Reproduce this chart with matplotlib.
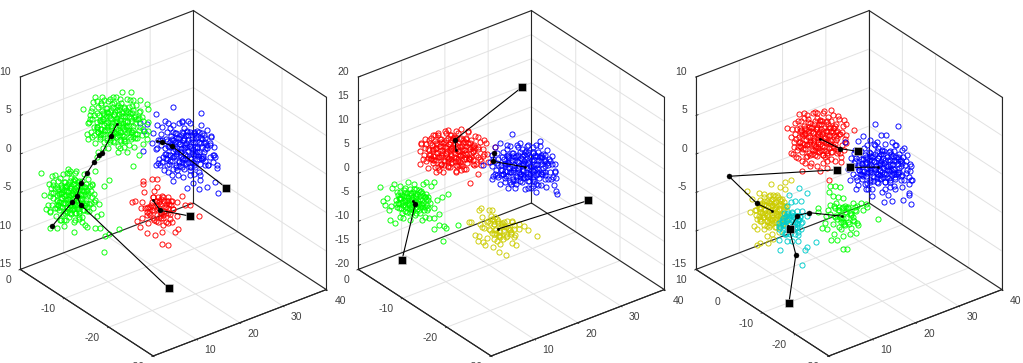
import numpy as np
import matplotlib
matplotlib.use('Agg')
import matplotlib.pyplot as plt
from matplotlib.ticker import NullFormatter
from mpl_toolkits.mplot3d import proj3d

plt.rcParams.update({'font.family': ['Liberation Sans', 'DejaVu Sans'], 'font.size': 7.5,
                     'axes.unicode_minus': False, 'grid.color': '#e2e2e2', 'grid.linewidth': 0.7,
                     'axes3d.automargin': False})

RED, GREEN, BLUE, YELLOW, CYAN = '#ff0000', '#00ff00', '#0000ff', '#cccc00', '#00cccc'
FRAME, LABEL = '#262626', '#404040'

core = [(-1.9,0.2),(-1.7,0.8),(-1.6,-0.4),(-1.4,1.2),(-1.4,0.3),(-1.3,-0.9),(-1.2,-0.1),(-1.0,0.7),(-1.0,1.5),
        (-0.9,-0.5),(-0.9,-1.3),(-0.8,0.2),(-0.6,1.1),(-0.6,-0.9),(-0.5,0.5),(-0.5,-0.2),(-0.3,1.6),(-0.3,-1.5),
        (-0.2,0.9),(-0.2,-0.7),(-0.1,0.2),(0.0,-0.3),(0.1,1.3),(0.1,0.6),(0.1,-1.1),(0.3,-0.1),(0.4,1.6),(0.4,0.4),
        (0.4,-0.7),(0.5,-1.5),(0.6,1.0),(0.7,0.1),(0.8,-0.4),(0.8,-1.1),(0.9,0.7),(1.0,1.3),(1.1,0.2),(1.1,-0.8),
        (1.3,0.7),(1.3,-0.2),(1.4,-1.2),(1.6,0.3),(1.6,1.0),(1.7,-0.5),(1.9,0.1),(1.9,-0.9),(-1.8,-0.7),(-1.6,0.4),
        (-1.2,0.9),(-1.1,-0.5),(-0.8,-0.1),(-0.7,0.7),(-0.4,0.1),(-0.3,-1.0),(-0.1,1.1),(0.0,0.3),(0.2,-0.5),(0.3,0.9),
        (0.6,-0.2),(0.6,-1.0),(0.9,0.3),(1.0,-0.3),(1.2,1.1),(1.5,-0.7),(1.5,0.6),(-1.5,-0.9),(-0.6,-1.4),(0.2,1.7),
        (0.9,-1.5),(1.8,0.6),(-1.9,-0.3),(-0.9,1.1),(0.0,-0.8),(0.5,0.7),(1.2,-0.5),(-0.4,-0.5),(-1.3,0.5),(0.8,1.5)]

p1_green_top = [(-3.3,1.5),(-2.1,2.7),(-1.4,2.7),(0.6,3.2),(1.5,3.2),(2.4,2.4),(3.1,2.0),(3.2,1.5),(2.3,1.2),(1.7,2.4),
    (-2.6,0.5),(-2.7,0.2),(-2.3,2.2),(-1.9,2.3),(-0.8,2.3),(0,2.7),(1.1,2.5),(-1.9,-0.5),(-2.9,-1),(-2.4,-1.3),(-1.6,-1.5),
    (-0.6,-1.8),(0.2,-2.8),(0.2,-2.2),(1.1,-2.8),(1.8,-2.3),(2.3,-3.1),(3.2,0.2),(3.2,-0.7),(3,-1),(2.7,-2),(3.1,-1.5),
    (2.2,0.5),(2.1,-1),(1.7,-4.2),(-1.8,-2.8),(-1.9,-3.3),(1.7,-1.3),(-2.5,1.3),(-2.2,-0.3),(2.4,-0.3),(2.6,0.7),(1.6,1.8),
    (-1.5,1.9),(0.5,2.1),(-0.4,2.0),(-1.6,-1.1),(0.8,-1.7),(1.5,-1.5)]
p1_green_low = [(-3.1,2.4),(-2,2.1),(-1.7,2.2),(-0.4,2.8),(0.4,2.6),(-0.3,2.4),(-2.3,1.3),(-1.9,1.2),(-2.8,0.2),(-2.1,0.4),
    (-1.9,-0.1),(-2.4,-0.8),(-2.6,-1.2),(-2.2,-1.5),(-1.5,-1.1),(-0.8,-2.3),(-1.5,-3.1),(-2.2,-3.1),(0.2,-3.5),(-0.8,-2.9),
    (1.3,-2.8),(1.5,-3),(2.3,-3.1),(2.8,-3.1),(2.9,-1.7),(2.5,-1.9),(2.7,-0.7),(2.3,-0.3),(1.8,1.1),(2,1.3),(3.2,1.1),(3.7,1.7),
    (2.3,2.6),(3.3,-3.9),(3.7,-3.7),(4.7,-3.2),(3.2,-5.5),(0.7,-2),(1.2,-1.3),(1.7,-0.7),(2,0),(-1.2,-2.3),(-0.3,-2),(0.2,-2.5),(1,-2.5)]
p1_blue = [(-1.2,4.3),(1.6,3.7),(-2.9,3.6),(-2,2.9),(-0.3,2.9),(0.3,2.9),(1.2,1.9),(1.7,1.7),(2.6,1.4),(-4.1,1.9),(-4.5,2.7),
    (-3.8,2.6),(-3.2,1.7),(-2.8,2.5),(-2.3,2.3),(-1.7,2.7),(-4.2,-0.1),(-3.3,0.7),(-2.8,0.2),(-2.7,-1.3),(-2.5,-1.5),(-1.8,-1.5),
    (-1.7,-2.2),(-1.2,-3.1),(-0.2,-2.7),(0.2,-3.8),(0.8,-3.3),(1.4,-3.9),(2.2,-3.7),(3.3,-4.3),(3,-3.2),(3.2,-1.8),(3,-0.7),(2.5,0.5),
    (2,1.2),(2.8,-0.5),(2.3,-1.5),(1.5,-3),(3.2,-1.5),(-2.2,-0.7),(-1.2,1.8),(-0.2,1.7),(-2.5,1),(-1.5,0.8),(1.5,-2.5),(-0.8,-2),
    (0.5,-2),(2.2,0.2),(1.8,-0.8),(0.7,1.5)]
p1_red = [(-0.8,3),(-1.7,2.8),(-0.3,3),(-1.7,2.5),(-1.6,1.7),(-0.6,1.8),(-0.3,2.2),(-2.8,0.8),(-2.5,0.9),(-1.8,0.8),(-1.9,0.2),
    (-1.5,0.2),(-1.2,0.3),(-0.7,1.2),(0.2,1.3),(0.8,1.2),(1.2,0.8),(2.2,1.3),(1.7,0.7),(3,0.4),(2.5,0.4),(3.9,-0.7),(-1.8,-0.8),
    (-2.3,-1.1),(-2,-1.7),(-1.2,-1.3),(-1.3,-2.3),(-0.5,-2.5),(0.2,-3.4),(0.8,-3.5),(0.2,-2.2),(1.8,-2),(1.5,-2.2),(-0.3,-0.5),
    (-0.2,-1.2),(0.3,-0.8),(0.8,-1.3),(1,-0.5),(1.3,0),(0.5,0.2),(0,0.5),(-0.7,0.2),(-1,-0.5),(0.3,-1.5),(1.2,-1.3),(1.7,-0.7),
    (0.7,0.8),(-0.3,0.8),(-0.7,-0.8)]
p2_red = [(-3,0.9),(-1.8,1.7),(-2.2,1.2),(-2.3,0.3),(-2.7,-0.3),(-2.3,-0.6),(-1.6,-1.5),(-1.2,-1.8),(0.5,-1.9),(1.3,-1.7),(2.3,-1.3),
    (3,-1.3),(3.7,-1),(3.3,-0.2),(3.6,-0.2),(2.9,-0.7),(2.7,-2.2),(1.9,-3.1),(4.4,0.5),(2.7,1.5),(3.3,1.2),(3.5,0.9),(1.7,2.1),(1,2.3),
    (0.7,1.9),(-0.5,1.9),(0,1.7),(2.3,0.7),(2.2,0),(1.8,-0.7),(-1.3,1.7),(-1,-1.2),(-0.3,-1.5),(0.8,-1.3),(1.5,1.3),(2.5,-0.3),(-1.8,-0.8),(2.7,0.3)]
p2_blue = [(-1.1,3.3),(1.7,2.6),(-2.3,2.4),(-1.6,2.2),(-3.1,1.2),(-2.8,2),(1,2),(1.3,2.2),(0.4,2.1),(2.6,0.8),(2.9,0.3),(3.2,-0.5),
    (3.3,-1.1),(3.1,-1.8),(3.3,-2.4),(3.4,-2.7),(1.3,-2.5),(0.8,-2.1),(0.2,-2.2),(-1.2,-1.7),(-1.8,-1.5),(-3,-0.9),(-2.6,-0.8),(-4,0.2),
    (-3.3,0.5),(2.3,-2),(1.8,-1.8),(2.8,-1.2),(2.2,-0.5),(1.8,1.2),(-1.5,1.2),(-2.5,0.2),(-2.2,-0.8),(-0.5,2),(-0.7,-1.7),(1.3,-1.7),
    (2.5,0.2),(2.2,1.2),(-1.8,0.2),(-2.7,-0.3)]
p2_green = [(-3.2,1.4),(-1.8,1.7),(-2,1.3),(-1.2,1.5),(-0.4,1.9),(0.2,1.7),(1.1,1.7),(1.4,1.9),(2.2,1.9),(1.9,1.5),(-2.5,0.3),(-2.9,0),
    (-2.7,-0.4),(-2.3,-0.9),(-2.1,-0.5),(-1.4,-0.2),(-2.2,-1.9),(-1.7,-2.2),(-1.2,-1.6),(-0.9,-1.7),(-0.2,-1.9),(1,-1.9),(1.7,-1.7),
    (2.2,-1.7),(2.7,-1.3),(2.5,0.1),(3,0.4),(3.6,0.7),(2.7,-2.4),(2.2,-2.8),(3.2,-2.5),(3.4,-2.7),(4.6,-2.4),(3.1,-4),(-1.5,0.9),(-1,-1.2),
    (0.3,-1.4),(1.5,-0.9),(1.8,-0.2),(0.8,0.9),(-0.7,1.3),(-1.2,0.3),(-0.7,-0.6),(0,-1.1),(0.8,-0.6),(1.3,0.4),(-0.2,0.8),(0.3,0),(-0.5,0.1),
    (2.2,-0.7),(1.3,-1.6)]
p2_yellow = [(-1.8,2.1),(-2,1.9),(-1,1.9),(-0.7,1.9),(-1.7,1.2),(-0.8,1.3),(-0.4,1.2),(-3,0.7),(-2.8,0.7),(-1.9,0.5),(-1.7,0.2),(-2.4,-0.6),
    (-2,-0.7),(-2.1,-1.2),(-1.6,-1.3),(-1.4,-1.6),(-1.2,-0.9),(-0.6,-1.8),(0,-2.3),(0.7,-2.6),(-0.2,-1.2),(0.1,-1.5),(1.3,-1.4),(1.7,-1.6),
    (1.5,-0.8),(0.8,-0.7),(0.4,-1),(0,-0.7),(-0.5,-0.5),(-1,0),(-0.5,0.5),(0.2,0.5),(0.8,0.8),(1.3,0.8),(2,0.5),(2.5,0.3),(2.9,-0.1),(3.8,-0.7),
    (1.5,0),(1,0),(0.5,-0.2),(-0.3,0),(-0.7,1),(0.5,0.3),(1.2,-0.3),(0.1,-0.3),(0.7,-0.5),(2,0),(-1.2,0.7),(-0.2,1)]
p3_red = [(-3.1,1.1),(-1.9,2.5),(-1.4,2.6),(-2,1.8),(-0.1,2.6),(0.6,2.8),(1.3,2.9),(2,2.3),(2.6,1.9),(2.8,1.5),(3.6,0.9),(2.7,0),(2.7,-0.3),
    (-2.2,0),(-2.4,-0.3),(-2,-0.8),(-2.5,-1.5),(-2.2,-1.8),(-1.6,-2.2),(-0.8,-2.7),(-0.1,-2.7),(0.2,-3.2),(-1.6,-3.2),(0.9,-2.9),(2.3,-1.8),
    (2.3,-2.3),(1.1,-4.1),(1.7,-2.2),(1.3,-1.3),(2,-1.2),(2.2,0.5),(1.7,1.3),(-1,2),(1,2.2),(1.8,0.3),(-1.2,-1.8),(0.7,-1.8),(-1.8,0.8)]
p3_blue = [(-0.5,4.3),(1.8,4.1),(-1.7,3.1),(-2.2,2.6),(-1,2.7),(0.1,3.2),(0.6,3.2),(1.5,2.2),(2.4,1.9),(-3.5,2.5),(-2.5,1.7),(-2.5,0.6),(-2.2,0),
    (-2.3,-1.3),(-2.4,-2.2),(-1.5,-1.7),(-0.8,-2.9),(0.4,-3.5),(1.2,-3.4),(0.8,-2.8),(2.3,-3.3),(3.1,-3.7),(2.9,-2.6),(2.9,-2.8),(3.1,-1.3),
    (3.2,-1.3),(2.9,-1.7),(3.1,0.1),(2.7,-0.3),(2.2,-2),(1.5,-2.2),(2.3,1),(1.8,0.8),(2.2,-0.8),(-1.2,-2.2),(0.2,-2.5),(-1.7,0.8),(1.2,2.5),
    (-0.5,2.2),(2.5,0.2),(-1.8,-0.8),(1.5,-1),(-3.2,-0.2),(1.8,-0.5)]
p3_green = [(-1.3,2.9),(-0.8,2.9),(-0.3,2.8),(-1.4,2.3),(-1,1.9),(-0.5,1.8),(-0.7,1.2),(0,1.7),(0.2,0.9),(1,1.2),(1.4,0.9),(1.8,1.2),(2.3,1.1),
    (2,0.5),(2.4,0.8),(3.5,-0.4),(-2.5,0.8),(-2.5,0.4),(-1.5,0.5),(-1.7,0),(-1.8,-0.7),(-2.1,-1.2),(-1.6,-1.3),(-0.9,-1.8),(-1.2,-2.4),(-0.6,-2.4),
    (0,-2),(0,-3.3),(0.4,-3.3),(1.3,-1.8),(1.5,-1),(0.8,-1.3),(0.2,-1),(-0.2,-0.7),(0.3,-0.3),(0.8,0),(1.2,0.5),(-0.5,0.5),(-0.8,-0.2),(-0.2,-1.3),
    (0.5,-0.7),(1,-0.5),(-1,-0.8),(-0.3,0),(0.2,0.3),(0.5,0.7),(0.7,-1.8),(-1.3,1)]
p3_yellow = [(-0.1,2.8),(0.8,2.5),(1.3,3),(1.9,3.2),(1.3,2.3),(-1.3,1.9),(-0.8,1.8),(-2.5,2.1),(-2,1.3),(-1.7,0.2),(-2.2,0),(-1.2,0),(-1.8,-1.4),
    (-1.5,-1.7),(-1.2,-0.7),(-0.8,-1.7),(-0.5,-2.4),(0,-2.2),(-1.2,-3.1),(-1.5,-3.3),(-0.4,-3.1),(0.1,-2.7),(0.7,-2),(1,-1.2),(1.2,-0.3),(1.3,0.5),
    (1,1.3),(0.5,1.7),(-0.2,1.7),(0.3,1),(-0.3,1),(0.7,0.3),(-0.7,0.3),(0,-0.7),(-0.5,-0.8),(0.3,-1),(-0.2,-1.3),(0.8,-0.3),(-0.8,0.8),(-1,-0.3),
    (0.2,0.3),(0.5,-0.3),(0,0.7),(-0.5,-0.3),(0.8,0.8),(0.3,-1.5)]
p3_cyan = [(0.9,3.6),(1.7,3.1),(-0.1,2.9),(1.1,2.3),(0.5,2.3),(0.1,2.2),(1.2,1.3),(1.7,0.8),(0.7,1.3),(-0.3,1.8),(0.8,0.5),(1.2,0.2),(1.1,-0.5),
    (0.8,-1.1),(0.8,-1.7),(0.2,-1.7),(-0.3,-1.7),(-1.1,-1.6),(-1,-2.6),(1.7,-2.3),(1.5,-2.6),(2.6,-1.8),(1.2,-4.1),(-0.8,-0.8),(-0.5,-0.2),(-0.2,0.5),
    (0.3,0.8),(0.5,-0.5),(0,-1),(-0.5,-1),(0.7,0),(0,0),(0.2,1.2),(-0.3,1),(1,0.8),(0.5,0.2),(-0.7,0.3),(-0.2,-0.5)]

# points, colour, centre y, centre z, core spread h, core spread v, core step, outer ring
clusters1 = [(p1_red, RED, -13.9, -5.9, 0.7, 0.8, 2, False), (p1_blue, BLUE, -16.0, 1.8, 1.05, 1.15, 1, True),
             (p1_green_top, GREEN, -10.2, 5.2, 1.0, 1.1, 1, True), (p1_green_low, GREEN, -6.56, -4.3, 0.8, 1.05, 1, True)]
clusters2 = [(p2_red, RED, -10.0, 6.5, 1.15, 0.9, 1, True), (p2_blue, BLUE, -16.0, 3.4, 1.15, 0.95, 1, True),
             (p2_green, GREEN, -6.75, -3.7, 0.85, 0.75, 1, False), (p2_yellow, YELLOW, -14.0, -9.5, 0.8, 0.7, 3, False)]
clusters3 = [(p3_red, RED, -6.6, 3.3, 1.0, 1.1, 1, True), (p3_blue, BLUE, -13.44, -0.4, 1.1, 1.0, 1, True),
             (p3_green, GREEN, -9.38, -6.68, 0.7, 0.8, 3, False), (p3_yellow, YELLOW, -1.4, -6.25, 0.8, 1.0, 1, False),
             (p3_cyan, CYAN, -3.44, -7.77, 0.6, 0.7, 2, False)]

chains1 = [[(-4.9,-8.07),(-6.56,-4.95),(-6.97,-4.17),(-7.3,-2.47),(-7.8,-1.17),(-8.4,0.26),(-8.8,1.17),(-9.06,1.43),(-9.8,3.65),(-10.3,5.2)],
           [(-14.64,-16.15),(-7.3,-5.3),(-6.97,-4.17)],
           [(-19.4,-3.1),(-14.9,2.34),(-14.06,2.86),(-13.64,3.0)],
           [(-16.4,-6.77),(-13.9,-6.0),(-13.3,-4.7)]]
starts1 = [False, True, True, True]
chains2 = [[(-15.9,20.0),(-10.3,9.06),(-10.4,6.9)],
           [(-13.6,6.35),(-13.5,4.56),(-16.1,3.4)],
           [(-5.9,-15.9),(-7.0,-4.2),(-6.8,-3.7)],
           [(-21.4,-3.6),(-13.9,-9.5)]]
starts2 = [True, False, True, True]
chains3 = [[(-11.0,1.65),(-9.0,2.0),(-6.78,3.3)],
           [(-10.16,-0.43),(-13.27,-0.4)],
           [(-8.63,-0.74),(3.33,-1.56),(0.22,-5.1),(-1.4,-6.03)],
           [(-3.44,-8.46),(-4.27,-6.68),(-5.56,-6.3),(-9.19,-6.77)],
           [(-3.33,-18.0),(-4.1,-11.76),(-3.27,-7.98)]]
starts3 = [True, True, True, True, True]

panels = [dict(clusters=clusters1, chains=chains1, starts=starts1, ylim=(-30, 0), zlim=(-15, 10),
               yticks=[-30, -20, -10, 0], zticks=[-15, -10, -5, 0, 5, 10], left=20.3),
          dict(clusters=clusters2, chains=chains2, starts=starts2, ylim=(-30, 0), zlim=(-20, 20),
               yticks=[-30, -20, -10, 0], zticks=list(range(-20, 21, 5)), left=358.3),
          dict(clusters=clusters3, chains=chains3, starts=starts3, ylim=(-30, 10), zlim=(-15, 10),
               yticks=[-30, -20, -10, 0, 10], zticks=[-15, -10, -5, 0, 5, 10], left=696.0)]
XLIM = (0, 40)
XTICKS = [0, 10, 20, 30, 40]
XLABELS = [10, 20, 30, 40]
W, H = 1023, 363
BOX_W, BOTTOM = 306.0, 356.0

fig = plt.figure(figsize=(W/100, H/100), dpi=100)


def corners_px(ax, p):
    xs, ys, zs = [], [], []
    for x in XLIM:
        for y in p['ylim']:
            for z in p['zlim']:
                xs.append(x); ys.append(y); zs.append(z)
    a, b, _ = proj3d.proj_transform(np.array(xs, float), np.array(ys, float), np.array(zs, float), ax.get_proj())
    return ax.transData.transform(np.column_stack([a, b]))


def label3d(ax, x, y, z, s, ha):
    a, b, _ = proj3d.proj_transform(float(x), float(y), float(z), ax.get_proj())
    ax.text2D(a, b, str(s), transform=ax.transData, ha=ha, va='center', color=LABEL, fontsize=7.5)


for p in panels:
    S = 300.0
    ax = fig.add_axes([0.1, 0.1, S/W, S/H], projection='3d', computed_zorder=False)
    ax.set_proj_type('ortho')
    ax.view_init(elev=30, azim=-127.5)
    ax.set_box_aspect((1, 1, 1.018))
    x0, x1 = XLIM
    y0, y1 = p['ylim']
    z0, z1 = p['zlim']
    ax.set_xlim(x0, x1, view_margin=0)
    ax.set_ylim(y0, y1, view_margin=0)
    ax.set_zlim(z0, z1, view_margin=0)
    ax.patch.set_alpha(0)
    ax.set_xticks(XTICKS); ax.set_yticks(p['yticks']); ax.set_zticks(p['zticks'])
    ax.grid(True)
    ax.tick_params(axis='both', colors=FRAME)
    for a in (ax.xaxis, ax.yaxis, ax.zaxis):
        a.set_major_formatter(NullFormatter())
        for tick in a.get_major_ticks():
            tick.label1.set_visible(False)
            tick.label2.set_visible(False)
        a.set_pane_color((1, 1, 1, 1))
        a.pane.set_edgecolor('none')
        a.line.set_color(FRAME)
        a.line.set_linewidth(0.8)
        a._axinfo['tick']['inward_factor'] = 0.1
        a._axinfo['tick']['outward_factor'] = 0.0
        a._axinfo['tick']['linewidth'] = {True: 0.6, False: 0.5}
    ax.zaxis._axinfo['tick']['inward_factor'] = 0.0
    ax.zaxis.line.set_visible(False)

    xr, yr, zr = x1 - x0, y1 - y0, z1 - z0
    ymid = (y0 + y1)/2
    slope = 1.3134*40/yr
    yu = yr/36.0
    zu = zr*10/192.0

    # the box
    edges = [((x0, y1, z1), (x1, y1, z1)), ((x1, y1, z1), (x1, y0, z1)), ((x0, y1, z0), (x0, y1, z1)),
             ((x1, y1, z0), (x1, y1, z1)), ((x1, y0, z0), (x1, y0, z1)), ((x0, y1, z0), (x1, y1, z0)),
             ((x1, y1, z0), (x1, y0, z0)), ((x0, y1, z0), (x0, y0, z0)), ((x0, y0, z0), (x1, y0, z0))]
    for a, b in edges:
        ax.plot(*zip(a, b), color=FRAME, lw=0.8, solid_capstyle='projecting')
    for t in p['zticks']:
        ax.plot([x0, x0 + 0.012*xr], [y1, y1], [t, t], color=FRAME, lw=0.6)

    # tick labels
    for t in XLABELS:
        label3d(ax, t, y0 - 0.06*yr, z0 - 0.03*zr, t, 'left')
    for t in p['yticks']:
        label3d(ax, x0 - 0.052*xr, t, z0 - 0.039*zr, t, 'right')
    for t in p['zticks']:
        label3d(ax, x0 - 0.052*xr, y1, t + 0.044*zr, t, 'right')

    for pts, col, cy, cz, sx, sz, step, outer in p['clusters']:
        c = np.array(core[::step], float)*[sx, sz]
        stack = [c, np.array(pts, float)]
        if outer:
            stack.append(np.array(core, float)*[-1.45*sx, 1.45*sz])
        o = np.vstack(stack)
        y = cy - o[:, 0]*yu
        z = cz + o[:, 1]*zu
        x = 20 - slope*(y - ymid)
        ax.plot(x, y, z, ls='none', marker='o', mfc='none', mec=col, ms=3.7, mew=0.65)

    for chain, sq in zip(p['chains'], p['starts']):
        c = np.array(chain, float)
        x = 20 - slope*(c[:, 0] - ymid)
        ax.plot(x, c[:, 0], c[:, 1], color='k', lw=0.8)
        ax.plot(x[:-1], c[:-1, 0], c[:-1, 1], ls='none', marker='o', ms=3.6, mfc='k', mec='k', mew=0.3)
        ax.plot(x[-1:], c[-1:, 0], c[-1:, 1], ls='none', marker='o', ms=1.8, mfc='k', mec='k', mew=0.2)
        if sq:
            ax.plot(x[:1], c[:1, 0], c[:1, 1], ls='none', marker='s', ms=6.0, mfc='k', mec='#d8d8d8', mew=0.4)

    # fit the projected box onto its place in the figure
    px = corners_px(ax, p)
    S *= BOX_W/(px[:, 0].max() - px[:, 0].min())
    ax.set_position([0.1, 0.1, S/W, S/H])
    px = corners_px(ax, p)
    dx = p['left'] - px[:, 0].min()
    dy = (H - BOTTOM) - px[:, 1].min()
    ax.set_position([0.1 + dx/W, 0.1 + dy/H, S/W, S/H])

fig.savefig('out.png', dpi=100)
